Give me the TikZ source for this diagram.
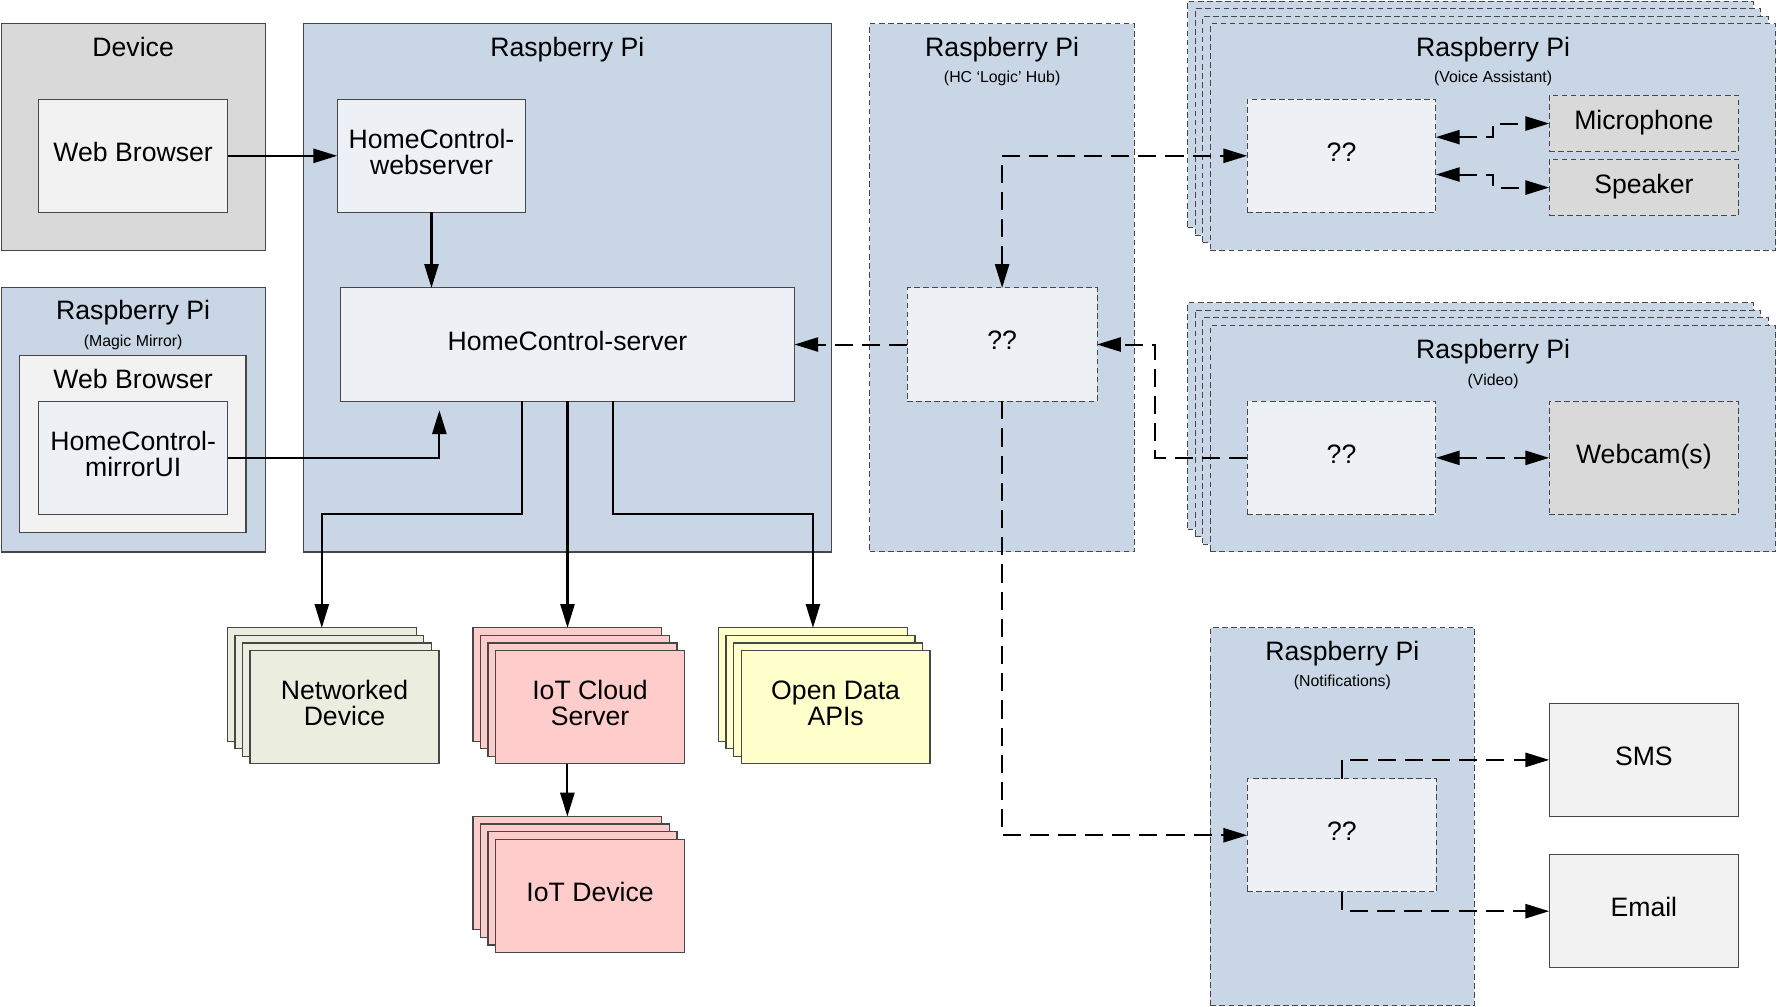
\documentclass[tikz,border=0pt]{standalone}
\usepackage{fontspec}
\setmainfont{Liberation Sans}
\usetikzlibrary{arrows.meta}
\definecolor{rpiblue}{HTML}{C8D6E5}
\definecolor{innerfill}{HTML}{EDF1F6}
\definecolor{devgray}{HTML}{D9D9D9}
\definecolor{paleg}{HTML}{F2F2F2}
\definecolor{bordercol}{HTML}{474747}
\definecolor{netgreen}{HTML}{EBEEDF}
\definecolor{iotpink}{HTML}{FFCCCC}
\definecolor{openyellow}{HTML}{FFFFCC}
\def\stoff{6.67}
\newcommand\mybox[7]{%
  \pgfmathsetmacro\mbW{(#5)-(#3)}%
  \pgfmathsetmacro\mbH{(#6)-(#4)}%
  \pgfmathsetmacro\mbX{((#3)+(#5))/2}%
  \pgfmathsetmacro\mbY{((#4)+(#6))/2}%
  \node[#1, minimum width=\mbW pt, minimum height=\mbH pt] (#2) at (\mbX,\mbY) {#7};}
\newcommand\stackbox[7]{%
  \foreach \k in {3,2,1} {\mybox{#1}{#2L\k}{#3-\k*\stoff}{#4-\k*\stoff}{#5-\k*\stoff}{#6-\k*\stoff}{}}%
  \mybox{#1}{#2}{#3}{#4}{#5}{#6}{#7}}
\begin{document}
\begin{tikzpicture}[x=1pt,y=-1pt,
  >={Triangle[length=21pt,width=12.5pt]},
  bx/.style={draw=bordercol, line width=1.1pt, inner sep=0pt, outer sep=0pt, align=center,
    font=\fontsize{23.5}{23}\selectfont, execute at begin node=\strut, execute at end node=\strut},
  dbx/.style={bx, line width=0.9pt, dash pattern=on 5pt off 3pt},
  ttl/.style={font=\fontsize{23.5}{23}\selectfont, anchor=base, inner sep=0pt},
  subt/.style={font=\fontsize{14}{14}\selectfont, anchor=base, inner sep=0pt},
  conn/.style={line width=1.8pt, ->},
  dconn/.style={conn, dash pattern=on 16pt off 8pt},
]
\fill[white] (0,0) rectangle (1568,888);
\useasboundingbox (0,0) rectangle (1568,888);
% containers
\mybox{bx, fill=devgray}{device}{1}{21}{234}{221}{}
\mybox{bx, fill=rpiblue}{rpimain}{267.5}{21}{733.7}{487}{}
\mybox{bx, fill=rpiblue}{magic}{1}{254}{234}{487}{}
\mybox{dbx, fill=rpiblue}{hub}{767.5}{21}{1001}{487}{}
\stackbox{dbx, fill=rpiblue}{voice}{1068}{21}{1567}{221}{}
\stackbox{dbx, fill=rpiblue}{video}{1068}{287}{1567}{487}{}
\mybox{dbx, fill=rpiblue}{notif}{1068}{554}{1301}{887.3}{}
% titles
\node[ttl] (tDevice) at (117.5,50) {Device};
\node[ttl] (tRpi) at (500.6,50) {Raspberry Pi};
\node[ttl] (tMagic) at (117.5,282) {Raspberry Pi};
\node[subt] (sMagic) at (117.5,306) {(Magic Mirror)};
\node[ttl] (tHub) at (884.3,50) {Raspberry Pi};
\node[subt] (sHub) at (884.3,72.5) {(HC ‘Logic’ Hub)};
\node[ttl] (tVoice) at (1317.5,50) {Raspberry Pi};
\node[subt] (sVoice) at (1317.5,72.5) {(Voice Assistant)};
\node[ttl] (tVideo) at (1317.5,316) {Raspberry Pi};
\node[subt] (sVideo) at (1317.5,340) {(Video)};
\node[ttl] (tNotif) at (1184.5,583) {Raspberry Pi};
\node[subt] (sNotif) at (1184.5,605.5) {(Notifications)};
% inner boxes
\mybox{bx, fill=paleg}{wb}{34}{87.5}{201}{187.5}{Web Browser}
\mybox{bx, fill=innerfill}{ws}{297.5}{87.5}{464}{187.5}{HomeControl-\\webserver}
\mybox{bx, fill=innerfill}{server}{300.5}{254}{701}{354}{HomeControl-server}
\mybox{bx, fill=paleg}{wbin}{17.5}{314}{217}{470}{}
\node[ttl] (tWbin) at (117.5,343) {Web Browser};
\mybox{bx, fill=innerfill}{mui}{34}{354}{201}{454}{HomeControl-\\mirrorUI}
\mybox{dbx, fill=innerfill}{hubq}{800.5}{254}{968}{354}{??}
\mybox{dbx, fill=innerfill}{voiceq}{1100.5}{87.5}{1267}{187.5}{??}
\mybox{dbx, fill=devgray}{mic}{1367}{84}{1534}{134}{Microphone}
\mybox{dbx, fill=devgray}{spk}{1367}{140.5}{1534}{190.5}{Speaker}
\mybox{dbx, fill=innerfill}{videoq}{1100.5}{354}{1267}{454}{??}
\mybox{dbx, fill=devgray}{cam}{1367}{354}{1534}{454}{Webcam(s)}
\mybox{dbx, fill=innerfill}{notifq}{1100.5}{687}{1267.5}{787}{??}
\mybox{bx, fill=paleg}{sms}{1367}{620.5}{1534}{720.5}{SMS}
\mybox{bx, fill=paleg}{email}{1367}{754}{1534}{854}{Email}
% stacks
\stackbox{bx, fill=netgreen}{netdev}{220.6}{574}{387.3}{674}{Networked\\Device}
\stackbox{bx, fill=iotpink}{cloud}{437.3}{574}{604}{674}{IoT Cloud\\Server}
\stackbox{bx, fill=openyellow}{odata}{654}{574}{820.7}{674}{Open Data\\APIs}
\stackbox{bx, fill=iotpink}{iotdev}{437.3}{740.5}{604}{840.5}{IoT Device}
% solid connectors
\draw[conn] (wb.east) -- (ws.west);
\draw[conn] (ws.south) -- (ws.south |- server.north);
\coordinate (mtip) at (387.7,362);
\draw[conn] (mui.east) -| (mtip);
\draw[conn] ([xshift=-40pt]server.south) -- ++(0,99.7) -| (netdevL3.north);
\draw[conn] (server.south) -- (server.south |- cloudL3.north);
\draw[conn] ([xshift=40pt]server.south) -- ++(0,99.7) -| (odataL3.north);
\draw[conn] (cloudL3.north |- cloud.south) -- (iotdevL3.north);
% dashed connectors
\draw[dconn] (hubq.west) -- (server.east);
\draw[dconn,<->] (hubq.north) |- (voiceq.west);
\coordinate (vj) at (1019,404);
\draw[dconn] (videoq.west) -- (videoq.west -| vj) |- (hubq.east);
\draw[dconn] (hubq.south) |- (notifq.west);
\draw[dconn] (notifq.north) |- (sms.west);
\draw[dconn] (notifq.south) |- (email.west);
\draw[dconn,<->] ([yshift=16.5pt]voiceq.east) -- ++(50.5,0) |- (mic.west);
\draw[dconn,<->] ([yshift=-16.5pt]voiceq.east) -- ++(50.5,0) |- (spk.west);
\draw[dconn,<->] (videoq.east) -- (cam.west);
\end{tikzpicture}
\end{document}
